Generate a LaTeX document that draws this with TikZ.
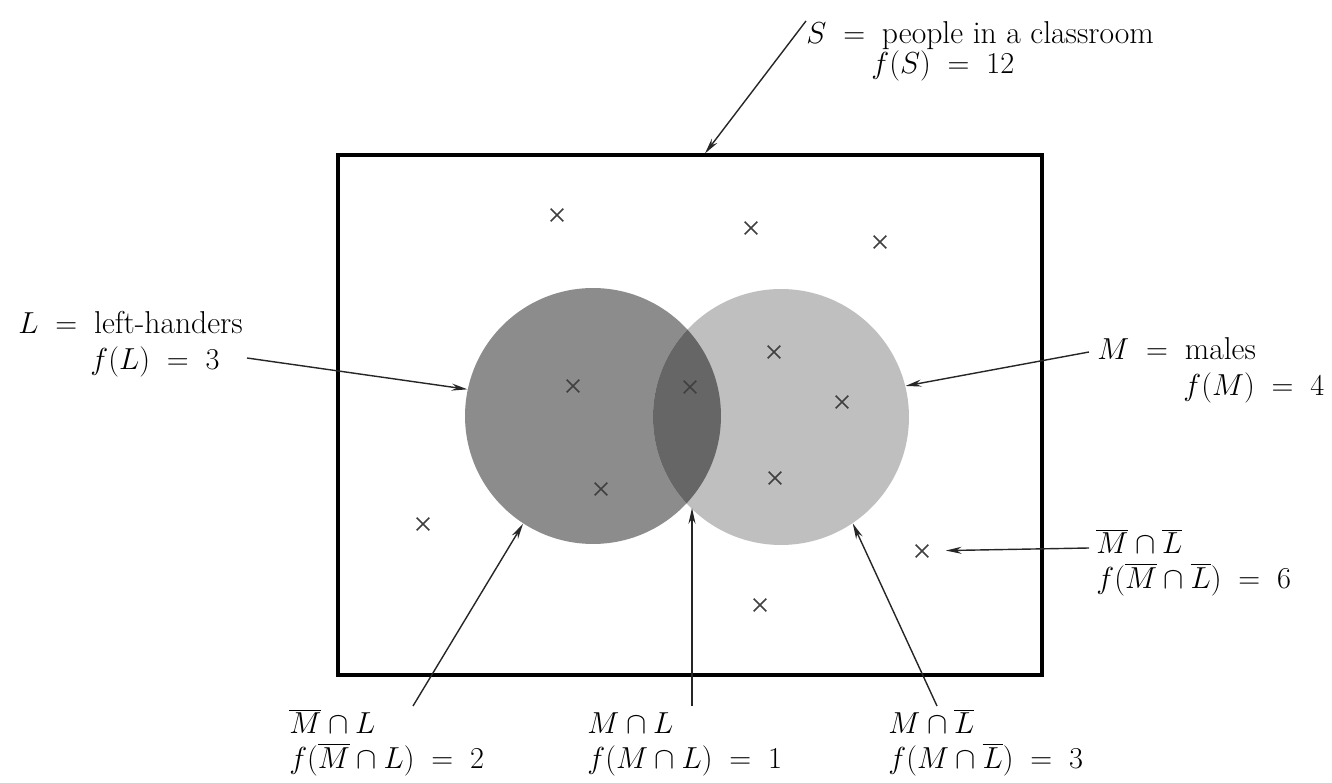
\documentclass[tikz,border=0pt]{standalone}
\usepackage{tikz}
\usetikzlibrary{calc,arrows.meta,shapes.misc,positioning}
\tikzset{
myUniverse/.style={
	rectangle,draw=black,line width=1.8pt,
	minimum width=14.08cm,minimum height=10.4cm,inner sep=0pt
}
, mySetL/.style={
	circle,fill=black!45,inner sep=0pt,minimum size=5.12cm
}
, mySetM/.style={
	circle,fill=black!25,inner sep=0pt,minimum size=5.12cm
}
, myLens/.style={fill=black!60}
, myPerson/.style={
	cross out,draw=black!75,line width=0.9pt,
	minimum size=2.2mm,inner sep=0pt
}
, myLabel/.style={
	inner sep=0pt,text=black,align=left,anchor=base west,
	font=\fontsize{18}{17.5}\selectfont
}
% link
, myPointer/.style={-{Stealth[length=9pt,width=4pt]},draw=black!85,line width=0.8pt}
}
\newcommand{\eqs}{\;=\;}
\newcommand{\nt}[1]{\overline{#1}}

\begin{document}
\begin{tikzpicture}[x=0.02cm,y=-0.02cm]
	\useasboundingbox (0,0) rectangle (1332,783);
	% sets
	\node[myUniverse] (S) at (690,415) {};
	\node[mySetL] (L) at (593,416) {};
	\node[mySetM] (M) at (781,417) {};
	\begin{scope}
		\clip (L.center) circle (2.56cm);
		\fill[myLens] (M.center) circle (2.56cm);
	\end{scope}
	\coordinate (lensBottom) at (692,508);
	% people
	\node[myPerson] (p1) at (557,215) {};
	\node[myPerson] (p2) at (751,228) {};
	\node[myPerson] (p3) at (880,242) {};
	\node[myPerson] (p4) at (573,386) {};
	\node[myPerson] (p5) at (690,387) {};
	\node[myPerson] (p6) at (774,352) {};
	\node[myPerson] (p7) at (842,402) {};
	\node[myPerson] (p8) at (601,489) {};
	\node[myPerson] (p9) at (775,478) {};
	\node[myPerson] (p10) at (423,524) {};
	\node[myPerson] (p11) at (922,551) {};
	\node[myPerson] (p12) at (760,605) {};
	% labels (base = last line)
	\node[myLabel] (labS) at (806,74) {$S\eqs{}$people in a classroom\\\hspace*{37pt}$f(S)\eqs 12$};
	\node[myLabel] (labL) at (18,370) {$L\eqs{}$left-handers\\[3.5pt]\hspace*{41pt}$f(L)\eqs 3$};
	\node[myLabel] (labM) at (1097,396) {$M\eqs{}$males\\[3pt]\hspace*{49pt}$f(M)\eqs 4$};
	\node[myLabel] (labN) at (1096,588) {$\nt{M}\cap\nt{L}$\\[2pt]$f(\nt{M}\cap\nt{L})\eqs 6$};
	\node[myLabel] (labA) at (289,768) {$\nt{M}\cap L$\\[2pt]$f(\nt{M}\cap L)\eqs 2$};
	\node[myLabel] (labB) at (587,768) {$M\cap L$\\[2pt]$f(M\cap L)\eqs 1$};
	\node[myLabel] (labC) at (888,768) {$M\cap\nt{L}$\\[2pt]$f(M\cap\nt{L})\eqs 3$};
	% tails
	\coordinate (tailL) at (247,358);
	\coordinate (tailM) at (1089,352);
	\coordinate (tailN) at (1089,548);
	\coordinate (tailA) at (413,706);
	\coordinate (tailB) at (692,706);
	\coordinate (tailC) at (937,706);
	% links
	\draw [myPointer] (labS.north west) to ($(S.north)+(15,0)$);
	\draw [myPointer] (tailL) to (L.168);
	\draw [myPointer] (tailM) to (M.14);
	\draw [myPointer,shorten >=3.5mm] (tailN) to (p11);
	\draw [myPointer] (tailA) to (L.237);
	\draw [myPointer] (tailB) to (lensBottom);
	\draw [myPointer] (tailC) to (M.-56);
\end{tikzpicture}
\end{document}
